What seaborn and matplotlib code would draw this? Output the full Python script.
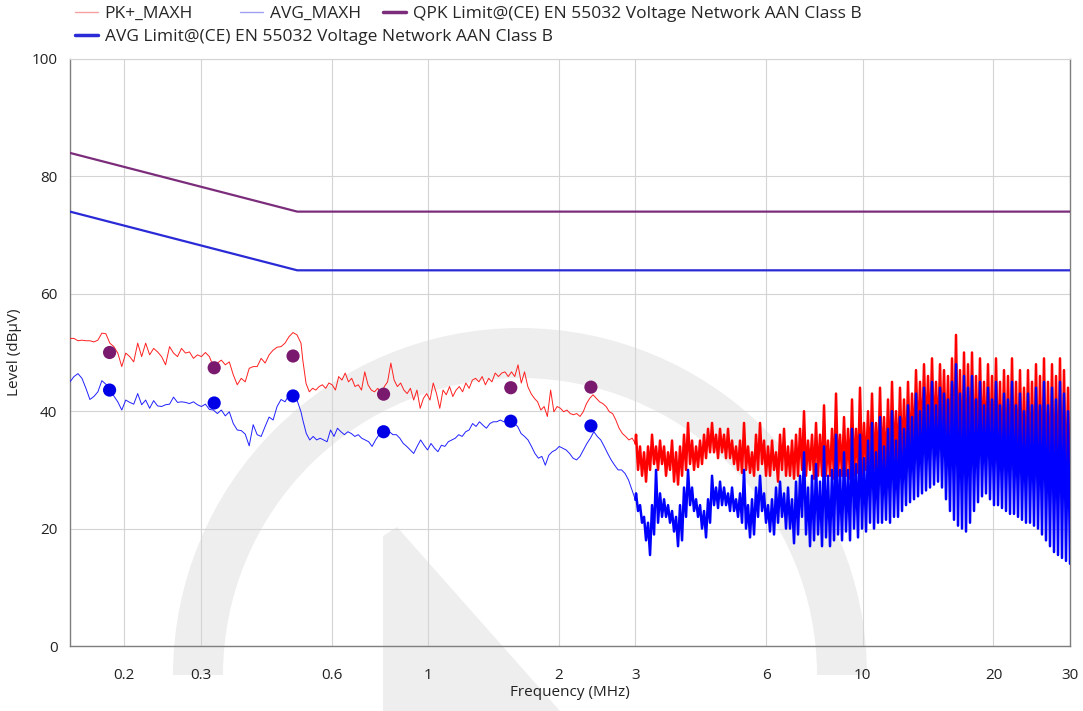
import numpy as np
import pandas as pd
import matplotlib
matplotlib.use('Agg')
import matplotlib.pyplot as plt
from matplotlib.patches import Wedge, Polygon
from matplotlib.lines import Line2D
from matplotlib.ticker import FixedLocator, NullFormatter
import seaborn as sns

# limit lines (MHz, dBuV)
lim_freq = [0.15, 0.5, 30]
qpk_limit = [84, 74, 74]
avg_limit = [74, 64, 64]

# final measurement points
meas_freq = [0.185, 0.322, 0.489, 0.790, 1.550, 2.370]
qpk_meas = [50.0, 47.4, 49.4, 42.9, 44.0, 44.1]
avg_meas = [43.6, 41.4, 42.6, 36.5, 38.3, 37.5]

# scan traces 0.15 - 0.51 MHz
pk_low = [52.4, 52.4, 52.0, 52.1, 52.0, 52.0, 51.8, 52.1, 53.3, 53.2,
          51.6, 51.0, 49.9, 47.6, 49.9, 49.3, 48.4, 51.6, 49.3, 51.6,
          49.6, 50.7, 50.1, 49.3, 47.9, 51.0, 49.9, 49.3, 50.7, 49.9,
          50.1, 49.0, 49.6, 49.3, 50.0, 49.3, 47.6, 48.2, 48.7, 47.9,
          48.4, 46.2, 44.5, 45.6, 45.0, 47.3, 47.6, 47.6, 49.0, 48.2,
          49.6, 50.4, 50.9, 51.0, 51.6, 52.7, 53.4, 53.0, 51.6]
avg_low = [45.0, 45.9, 46.4, 45.6, 43.9, 42.0, 42.5, 43.3, 45.2, 44.6,
           44.1, 42.6, 41.6, 40.2, 41.9, 41.5, 41.2, 43.0, 41.1, 41.9,
           40.5, 41.8, 40.9, 40.8, 41.1, 41.2, 42.4, 41.5, 41.6, 41.5,
           41.3, 41.6, 41.1, 40.8, 41.2, 40.3, 40.2, 39.6, 40.2, 39.2,
           39.9, 37.9, 36.8, 36.7, 36.1, 34.1, 37.7, 36.0, 35.7, 37.4,
           39.0, 38.5, 40.8, 42.0, 41.6, 42.8, 42.4, 41.9, 39.9]

# scan traces 0.51 - 3 MHz
pk_mid = [48.7, 44.7, 43.3, 43.9, 43.6, 44.2, 44.5, 43.9, 44.8, 44.5,
          43.6, 45.9, 45.3, 46.5, 45.0, 45.6, 44.2, 44.5, 43.6, 46.7,
          44.5, 43.6, 43.3, 43.9, 43.0, 44.2, 45.0, 48.2, 45.3, 44.2,
          44.8, 43.6, 43.0, 43.9, 41.9, 43.6, 40.5, 42.2, 43.0, 41.9,
          44.8, 43.0, 40.5, 43.6, 42.8, 44.2, 42.5, 43.6, 44.2, 43.3,
          44.8, 43.9, 45.3, 45.6, 45.0, 45.9, 44.5, 45.6, 45.0, 46.5,
          45.9, 46.5, 46.7, 45.9, 46.7, 45.9, 47.9, 44.8, 46.7, 44.2,
          43.0, 42.2, 41.6, 40.2, 40.8, 39.1, 43.6, 39.9, 40.8, 40.5,
          39.9, 40.2, 39.6, 39.4, 39.6, 39.1, 39.9, 41.3, 42.2, 42.8,
          42.2, 41.6, 41.3, 40.8, 39.9, 39.6, 38.5, 37.1, 36.2, 35.7,
          35.1, 35.4, 34.5]
avg_mid = [38.5, 36.2, 35.1, 35.7, 35.1, 35.4, 35.1, 34.8, 36.8, 35.7,
           37.1, 36.5, 36.0, 36.5, 36.2, 35.7, 36.0, 35.4, 35.1, 34.8,
           34.0, 35.1, 36.0, 36.2, 37.4, 36.5, 36.0, 36.0, 35.4, 34.5,
           34.0, 33.4, 32.8, 34.0, 35.1, 34.2, 33.4, 34.5, 33.7, 33.1,
           34.2, 34.0, 34.8, 35.1, 35.4, 36.0, 35.7, 36.5, 36.8, 37.9,
           37.4, 38.2, 37.6, 37.1, 37.9, 38.2, 38.2, 38.5, 38.2, 38.5,
           37.9, 37.9, 37.4, 36.2, 35.7, 35.1, 34.0, 32.8, 32.0, 32.3,
           30.8, 32.5, 33.1, 33.4, 34.0, 33.7, 33.4, 32.8, 32.0, 31.7,
           32.3, 33.4, 34.5, 35.4, 36.5, 35.7, 35.1, 34.0, 32.8, 31.7,
           30.8, 30.0, 30.0, 29.4, 28.3, 26.6, 24.9]

# scan traces 3 - 30 MHz as (peak, valley) pairs
pk_high = [(36, 30), (34, 29), (33, 28), (34, 30), (36, 31), (34, 30), (35, 31), (34, 29), (33, 30), (35, 28),
           (33, 27.5), (34, 29), (36, 30), (38, 31), (35, 30), (34, 30.5), (35, 31), (36, 32), (37, 33), (38, 33),
           (36, 32), (37, 33), (36, 32), (37, 32), (35, 31), (34, 30), (35, 29.5), (38, 30), (34, 29.5), (33, 29),
           (36, 30), (38, 31), (35, 29), (34, 29), (35, 30), (33, 28), (36, 30), (37, 29), (34, 29), (35, 28.5),
           (36, 29), (37, 30), (40, 29), (35, 30), (36, 28.5), (38, 29), (36, 29), (41, 29), (35, 29), (37, 28.5),
           (43, 29), (36, 29), (39, 29), (37, 28.5), (42, 29), (37, 29.5), (44, 29), (38, 30), (40, 30), (43, 30),
           (38, 30), (44, 30), (39, 29.5), (42, 30), (45, 31), (40, 31), (44, 31), (42, 31), (45, 32), (43, 33),
           (47, 34), (45, 34), (48, 35), (46, 35), (49, 35), (45, 35), (48, 35), (47, 33), (46, 32), (49, 32),
           (53, 31), (47, 30), (50, 30), (48, 31), (50, 31), (46, 32), (49, 33), (45, 33), (48, 32), (46, 31),
           (49, 31), (45, 30), (47, 30), (46, 30), (49, 30), (45, 30), (47, 30), (44, 29), (47, 29), (45, 29),
           (48, 28), (46, 28), (49, 27), (45, 27), (48, 26), (46, 26), (49, 25), (47, 25), (44, 25)]
avg_high = [(26, 23), (24, 21), (22, 18), (21, 15.5), (24, 19), (30, 21), (26, 22), (25, 22), (24, 21), (23, 19.5),
            (22, 17), (24, 18), (27, 22), (30, 24), (27, 23), (25, 22), (24, 20), (23, 18.5), (25, 21), (29, 24),
            (27, 23.5), (28, 24), (27, 24), (26, 23), (27, 23), (25, 22), (26, 21), (30, 20), (24, 18.5), (25, 19),
            (27, 22), (29, 23), (26, 21), (24, 19.5), (25, 19), (27, 21), (28, 22), (26, 20), (27, 20), (25, 17.5),
            (28, 19), (29, 22), (33, 19), (27, 17), (29, 18), (31, 19), (28, 17), (34, 18.5), (29, 17), (30, 18),
            (36, 19), (30, 18), (33, 19.5), (30, 18), (37, 20), (31, 18.5), (36, 20), (32, 19.5), (35, 21), (38, 20),
            (33, 21), (39, 21), (34, 21.5), (37, 21), (40, 22), (35, 22), (39, 23), (37, 24), (41, 24.5), (39, 25),
            (43, 25.5), (40, 26), (44, 26.5), (41, 27), (45, 27.5), (41, 28), (44, 27), (43, 25), (42, 23), (45, 21.5),
            (48, 20.5), (43, 20), (46, 19.5), (44, 21), (46, 23), (42, 24.5), (45, 25.5), (41, 26), (44, 25), (42, 24),
            (45, 24), (41, 23.5), (43, 23), (42, 22.5), (45, 22.5), (41, 22), (43, 21.5), (40, 21), (43, 21), (41, 20.5),
            (44, 20), (41, 19), (45, 18), (41, 17), (44, 16), (42, 15.5), (45, 15), (43, 14.5), (40, 14)]


def build_trace(low, mid, high):
    # returns the smooth part (0.15-3 MHz) and the dense part (3-30 MHz)
    hi_vals = [mid[-1]] + [v for pair in high for v in pair]
    f1 = np.concatenate([np.geomspace(0.15, 0.51, len(low)),
                         np.geomspace(0.515, 3.0, len(mid))])
    f2 = np.concatenate([[3.0], np.geomspace(3.01, 30, len(hi_vals) - 1)])
    part1 = pd.DataFrame({'freq': f1, 'level': list(low) + list(mid)})
    part2 = pd.DataFrame({'freq': f2, 'level': hi_vals})
    return part1, part2


pk1, pk2 = build_trace(pk_low, pk_mid, pk_high)
av1, av2 = build_trace(avg_low, avg_mid, avg_high)
df_lim = pd.DataFrame({'freq': lim_freq, 'qpk': qpk_limit, 'avg': avg_limit})
df_meas = pd.DataFrame({'freq': meas_freq, 'qpk': qpk_meas, 'avg': avg_meas})

sns.set_style('white')
plt.rcParams['font.family'] = ['Open Sans', 'DejaVu Sans']

fig = plt.figure(figsize=(10.83, 7.11), dpi=100)
ax = fig.add_axes([70 / 1083, 65 / 711, 1000 / 1083, 587 / 711])
ax.set_zorder(1)
ax.patch.set_alpha(0)

# faint logo watermark in the background
ring = Wedge((5.20, 0.36), 3.47, 0, 180, width=0.50, transform=fig.dpi_scale_trans,
             facecolor='#eeeeee', edgecolor='none', zorder=0)
fig.add_artist(ring)
needle = Polygon([(3.83, 0), (3.83, 1.75), (3.97, 1.84), (5.60, 0)], closed=True,
                 transform=fig.dpi_scale_trans, facecolor='#eeeeee', edgecolor='none', zorder=0)
fig.add_artist(needle)

qpk_col = '#7b2d7b'
avg_col = '#2a2ad6'

sns.lineplot(data=pk1, x='freq', y='level', color='#ff2020', lw=0.7,
             estimator=None, sort=False, ax=ax, zorder=3)
sns.lineplot(data=pk2, x='freq', y='level', color='#ff0000', lw=1.8,
             estimator=None, sort=False, ax=ax, zorder=3)
sns.lineplot(data=av1, x='freq', y='level', color='#2020ff', lw=0.7,
             estimator=None, sort=False, ax=ax, zorder=4)
sns.lineplot(data=av2, x='freq', y='level', color='#0000ff', lw=1.8,
             estimator=None, sort=False, ax=ax, zorder=4)
sns.lineplot(data=df_lim, x='freq', y='qpk', color=qpk_col, lw=1.6, estimator=None, ax=ax, zorder=5)
sns.lineplot(data=df_lim, x='freq', y='avg', color=avg_col, lw=1.6, estimator=None, ax=ax, zorder=5)
sns.scatterplot(data=df_meas, x='freq', y='qpk', color='#7a1a6e', s=90, edgecolor='none', ax=ax, zorder=6)
sns.scatterplot(data=df_meas, x='freq', y='avg', color='#0000e6', s=90, edgecolor='none', ax=ax, zorder=6)

ax.set_xscale('log')
ax.set_xlim(0.15, 30)
ax.set_ylim(0, 100)

major_x = [0.2, 0.3, 0.6, 1, 2, 3, 6, 10, 20, 30]
minor_x = [0.4, 0.5, 0.7, 0.8, 0.9, 4, 5, 7, 8, 9]
ax.xaxis.set_major_locator(FixedLocator(major_x))
ax.xaxis.set_minor_locator(FixedLocator(minor_x))
ax.xaxis.set_minor_formatter(NullFormatter())
ax.set_xticklabels(['0.2', '0.3', '0.6', '1', '2', '3', '6', '10', '20', '30'])
ax.set_yticks([0, 20, 40, 60, 80, 100])
ax.yaxis.set_minor_locator(FixedLocator(np.arange(0, 101, 5)))

ax.tick_params(axis='x', which='major', direction='out', length=11, width=0.8, pad=5,
               color='#7f7f7f', labelsize=11, labelcolor='#222222')
ax.tick_params(axis='x', which='minor', direction='out', length=6, width=0.8, color='#7f7f7f')
ax.tick_params(axis='y', which='major', direction='out', length=8, width=0.8, pad=1,
               color='#7f7f7f', labelsize=11, labelcolor='#222222')
ax.tick_params(axis='y', which='minor', direction='out', length=5, width=0.8, color='#7f7f7f')
ax.grid(True, which='major', color='#d4d4d4', lw=0.8)

for side in ['left', 'bottom', 'right']:
    ax.spines[side].set_color('#7f7f7f')
    ax.spines[side].set_linewidth(1.0)
ax.spines['top'].set_color('#d4d4d4')

ax.set_xlabel('Frequency (MHz)', fontsize=11, color='#222222', labelpad=1)
ax.set_ylabel('Level (dBµV)', fontsize=11, color='#222222', labelpad=7)

# legend entries placed one by one along the top
legend_items = [
    (Line2D([], [], color='#f4a0a0', lw=1.0), 'PK+_MAXH', 75, 14),
    (Line2D([], [], color='#a0a0f0', lw=1.0), 'AVG_MAXH', 240, 14),
    (Line2D([], [], color=qpk_col, lw=2.5), 'QPK Limit@(CE) EN 55032 Voltage Network AAN Class B', 383, 14),
    (Line2D([], [], color=avg_col, lw=2.5), 'AVG Limit@(CE) EN 55032 Voltage Network AAN Class B', 75, 37),
]
for handle, label, px, py in legend_items:
    fig.legend([handle], [label], frameon=False, fontsize=12.5, handlelength=1.3,
               handletextpad=0.4, borderpad=0, borderaxespad=0, loc='center left',
               bbox_to_anchor=(px / 1083, 1 - py / 711))

fig.savefig('out.png', dpi=100)
